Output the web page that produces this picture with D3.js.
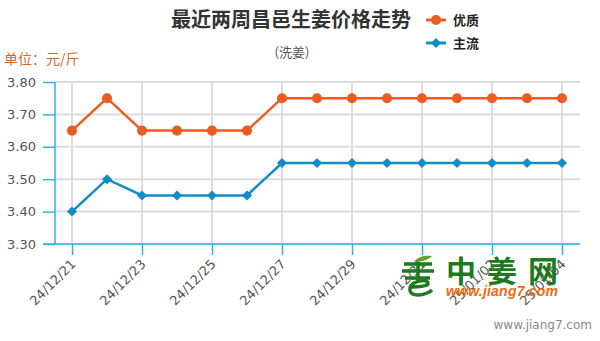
<!DOCTYPE html>
<html>
<head>
<meta charset="utf-8">
<script src="https://cdn.jsdelivr.net/npm/d3@7/dist/d3.min.js"></script>
<style>
  html, body { margin: 0; padding: 0; background: #fff; }
  svg { display: block; font-family: "Noto Sans CJK SC", "Noto Sans", sans-serif; }
</style>
</head>
<body>
<svg id="chart" width="600" height="341"></svg>
<script>
// Dates of the last two weeks
const dates = ["24/12/21","24/12/22","24/12/23","24/12/24","24/12/25","24/12/26","24/12/27",
               "24/12/28","24/12/29","24/12/30","24/12/31","25/01/01","25/01/02","25/01/03","25/01/04"];
// Prices, 元/斤
const premium = [3.65,3.75,3.65,3.65,3.65,3.65,3.75,3.75,3.75,3.75,3.75,3.75,3.75,3.75,3.75];
const mainstream = [3.40,3.50,3.45,3.45,3.45,3.45,3.55,3.55,3.55,3.55,3.55,3.55,3.55,3.55,3.55];
const yTicks = [3.30,3.40,3.50,3.60,3.70,3.80];
const seriesNames = ["优质","主流"];

const svg = d3.select("#chart");
const axisColor = "#2bb5e6";
const gridColor = "#dcdcdc";
const orange = "#ee5a1f";
const blue = "#108cc6";

const x = d3.scalePoint().domain(dates).range([72, 562]);
const y = d3.scaleLinear().domain([3.30, 3.80]).range([244, 82]);
const labelled = dates.filter((d, i) => i % 2 === 0);

// grid
svg.append("g").selectAll("line").data(yTicks).join("line")
  .attr("x1", 55).attr("x2", 580)
  .attr("y1", d => y(d)).attr("y2", d => y(d))
  .attr("stroke", gridColor).attr("stroke-width", 2);
svg.append("g").selectAll("line").data(labelled).join("line")
  .attr("x1", d => x(d)).attr("x2", d => x(d))
  .attr("y1", y(3.80)).attr("y2", y(3.30))
  .attr("stroke", gridColor).attr("stroke-width", 2);

// y axis
const yAxis = svg.append("g").attr("transform", "translate(55,0)")
  .call(d3.axisLeft(y).tickValues(yTicks).tickFormat(d3.format(".2f")).tickSize(12).tickPadding(7));
yAxis.select(".domain").remove();
yAxis.append("line").attr("x1", 0).attr("x2", 0).attr("y1", y(3.80)).attr("y2", y(3.30))
  .attr("stroke", axisColor).attr("stroke-width", 1.5);
yAxis.selectAll(".tick line").attr("stroke", axisColor).attr("stroke-width", 1.5);
yAxis.selectAll(".tick text").attr("fill", "#555").style("font-size", "13px")
  .style("font-family", "Verdana, 'DejaVu Sans', sans-serif");

// x axis
const xAxis = svg.append("g").attr("transform", "translate(0,244)")
  .call(d3.axisBottom(x).tickValues(labelled).tickSize(11).tickPadding(4));
xAxis.select(".domain").remove();
xAxis.append("line").attr("x1", 43).attr("x2", 580).attr("y1", 0).attr("y2", 0)
  .attr("stroke", axisColor).attr("stroke-width", 1.5);
xAxis.selectAll(".tick line").attr("stroke", axisColor).attr("stroke-width", 1.5);
xAxis.selectAll(".tick text")
  .attr("fill", "#555").style("font-size", "13px")
  .style("font-family", "Verdana, 'DejaVu Sans', sans-serif")
  .attr("text-anchor", "end").attr("dy", null).attr("y", 0)
  .attr("transform", "translate(4,21) rotate(-45)");

// watermark logo
const logo = svg.append("g");
const green = "#1d7a1d";
logo.append("path")
  .attr("d", "M404,264 L432,264 M402,271 L434,271 M405,278 L430,278 M418,262 L418,281")
  .attr("stroke", green).attr("stroke-width", 3.5).attr("fill", "none");
logo.append("path")
  .attr("d", "M414,262 C418,256 426,255 432,256 C428,260 421,262 414,262 Z")
  .attr("fill", "#5aa52a");
logo.append("path")
  .attr("d", "M409,287 C415,287 426,287 428,284 C428,279 420,280 414,283 C408,287 408,295 418,295 C424,295 430,292 432,290")
  .attr("stroke", green).attr("stroke-width", 3.5).attr("fill", "none");
logo.append("text").attr("x", 446).attr("y", 282).text("中姜网")
  .attr("fill", green).style("font-size", "30px").style("font-weight", "bold")
  .attr("textLength", 112);
logo.append("text").attr("x", 446).attr("y", 296).text("www.jiang7.com")
  .attr("fill", "#f26a10").style("font-size", "14px").style("font-weight", "bold")
  .style("font-style", "italic").style("font-family", "Arial, 'Liberation Sans', sans-serif")
  .attr("textLength", 112);

// series: circles for 优质, rotated squares for 主流
const series = [
  { name: seriesNames[0], values: premium, color: orange, shape: d3.symbolCircle, size: 80, rot: 0 },
  { name: seriesNames[1], values: mainstream, color: blue, shape: d3.symbolSquare, size: 50, rot: 45 }
];
const line = d3.line().x((d, i) => x(dates[i])).y(d => y(d));
series.forEach(s => {
  svg.append("path").datum(s.values).attr("d", line)
    .attr("fill", "none").attr("stroke", s.color).attr("stroke-width", 2.5);
  svg.append("g").selectAll("path").data(s.values).join("path")
    .attr("transform", (d, i) => `translate(${x(dates[i])},${y(d)}) rotate(${s.rot})`)
    .attr("d", d3.symbol().type(s.shape).size(s.size)())
    .attr("fill", s.color);
});

// title
svg.append("text").attr("x", 291).attr("y", 27).attr("text-anchor", "middle")
  .text("最近两周昌邑生姜价格走势").attr("fill", "#333")
  .style("font-size", "20px").style("font-weight", "bold");
svg.append("text").attr("x", 292).attr("y", 57).attr("text-anchor", "middle")
  .text("(洗姜)").attr("fill", "#555").style("font-size", "13px");
svg.append("text").attr("x", 4).attr("y", 64)
  .text("单位：元/斤").attr("fill", "#d9662a").style("font-size", "14px");

// legend
const legend = svg.append("g").selectAll("g").data(series).join("g")
  .attr("transform", (d, i) => `translate(426,${20 + i * 23})`);
legend.append("line").attr("x1", 0).attr("x2", 20)
  .attr("stroke", d => d.color).attr("stroke-width", 3);
legend.append("path")
  .attr("transform", d => `translate(10,0) rotate(${d.rot})`)
  .attr("d", d => d3.symbol().type(d.shape).size(d.size)())
  .attr("fill", d => d.color);
legend.append("text").attr("x", 27).attr("y", 5).text(d => d.name)
  .attr("fill", "#222").style("font-size", "13px").style("font-weight", "bold");

// footer url
svg.append("text").attr("x", 592).attr("y", 329).attr("text-anchor", "end")
  .text("www.jiang7.com").attr("fill", "#8a8a8a")
  .style("font-size", "12px").style("font-family", "Verdana, 'DejaVu Sans', sans-serif");
</script>
</body>
</html>
